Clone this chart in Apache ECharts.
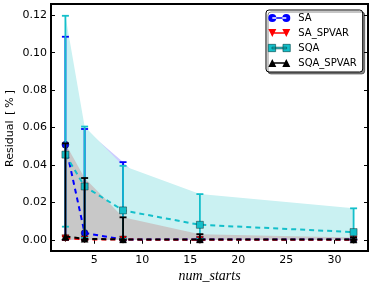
<!DOCTYPE html>
<html><head><meta charset="utf-8">
<script src="https://cdn.jsdelivr.net/npm/echarts@6/dist/echarts.min.js"></script>
<style>html,body{margin:0;padding:0;background:#fff}#c{width:374px;height:286px}</style>
</head><body><div id="c"></div>
<script>
const xs = [2, 4, 8, 16, 32];
const xTicks = [5, 10, 15, 20, 25, 30];
const yTicks = [0, 0.02, 0.04, 0.06, 0.08, 0.10, 0.12];
const yTickLabels = ['0.00', '0.02', '0.04', '0.06', '0.08', '0.10', '0.12'];

const saMean = [0.0508, 0.0036, 0.0002, 0.0001, 0.0001];
const saLow  = [0.0, 0.0, 0.0, 0.0, 0.0];
const saHigh = [0.1085, 0.0592, 0.0415, 0.0008, 0.0005];

const saspMean = [0.0008, 0.0002, 0.0001, 0.0, 0.0];
const saspLow  = [0.0, 0.0, 0.0, 0.0, 0.0];
const saspHigh = [0.0018, 0.0006, 0.0003, 0.0002, 0.0001];

const sqaMean = [0.0455, 0.0285, 0.0157, 0.0080, 0.0041];
const sqaLow  = [0.0070, 0.0010, 0.0005, 0.0005, 0.0002];
const sqaHigh = [0.1197, 0.0605, 0.0395, 0.0244, 0.0168];

const spMean = [0.0018, 0.0005, 0.0002, 0.0002, 0.0001];
const spLow  = [0.0, 0.0, 0.0, 0.0, 0.0];
const spHigh = [0.0515, 0.0330, 0.0120, 0.0030, 0.0012];

const BLUE = '#0000ff', RED = '#ff0000', CYAN = '#14bfca', BLACK = '#000000';

function triples(low, high) { return xs.map((x, i) => [x, low[i], high[i]]); }

function fillSeries(name, low, high, color) {
  return {
    type: 'custom', name: name + '_fill', z: 1, silent: true, clip: true,
    data: triples(low, high), encode: { x: 0, y: [1, 2] },
    renderItem: function (params, api) {
      if (params.dataIndex !== 0) return null;
      const pts = [];
      for (let i = 0; i < xs.length; i++) pts.push(api.coord([xs[i], high[i]]));
      for (let i = xs.length - 1; i >= 0; i--) pts.push(api.coord([xs[i], low[i]]));
      return { type: 'polygon', shape: { points: pts }, style: { fill: color } };
    }
  };
}

function errSeries(name, low, high, color, z) {
  return {
    type: 'custom', name: name + '_err', z: z, silent: true, clip: true,
    data: triples(low, high), encode: { x: 0, y: [1, 2] },
    renderItem: function (params, api) {
      const x = api.value(0);
      const a = api.coord([x, api.value(1)]);
      const b = api.coord([x, api.value(2)]);
      const w = 3.5;
      const st = { stroke: color, lineWidth: 1.8 };
      return { type: 'group', children: [
        { type: 'line', shape: { x1: a[0], y1: a[1], x2: b[0], y2: b[1] }, style: st },
        { type: 'line', shape: { x1: a[0] - w, y1: a[1], x2: a[0] + w, y2: a[1] }, style: st },
        { type: 'line', shape: { x1: b[0] - w, y1: b[1], x2: b[0] + w, y2: b[1] }, style: st }
      ]};
    }
  };
}

function lineSeries(name, mean, color, symbol, size, z, rot) {
  return {
    type: 'line', name: name, z: z, data: xs.map((x, i) => [x, mean[i]]),
    symbol: symbol, symbolSize: size, showSymbol: true, symbolRotate: rot || 0,
    lineStyle: { color: color, width: 2, type: [5, 4] },
    itemStyle: { color: color, borderColor: '#000', borderWidth: 0.4 },
    emphasis: { disabled: true }, animation: false
  };
}

const icons = {
  circle: 'path://M0,4a4,4 0 1,0 8,0a4,4 0 1,0 -8,0Z M14,4a4,4 0 1,0 8,0a4,4 0 1,0 -8,0Z M4,3.2h14v1.6h-14Z',
  tdown: 'path://M0,0h8l-4,8Z M14,0h8l-4,8Z M4,3.2h14v1.6h-14Z',
  square: 'path://M0.5,0.5h7v7h-7Z M14.5,0.5h7v7h-7Z M4,3.2h14v1.6h-14Z',
  tup: 'path://M4,0l4,8h-8Z M18,0l4,8h-8Z M4,3.2h14v1.6h-14Z'
};

const FONT = 'DejaVu Sans';
const chart = echarts.init(document.getElementById('c'), null, { renderer: 'canvas' });
chart.setOption({
  animation: false,
  backgroundColor: '#fff',
  grid: { left: 51, right: 6, top: 4, bottom: 35, show: true, borderColor: '#000', borderWidth: 2,
    backgroundColor: 'transparent', containLabel: false, outerBoundsMode: 'none' },
  legend: {
    left: 266, top: 10, orient: 'vertical',
    itemWidth: 22, itemHeight: 8, itemGap: 3,
    padding: [2, 6, 3, 2],
    backgroundColor: '#fff', borderColor: '#000', borderWidth: 1, borderRadius: 3,
    shadowColor: 'rgba(0,0,0,0.45)', shadowOffsetX: 2, shadowOffsetY: 2, shadowBlur: 0,
    textStyle: { fontFamily: FONT, fontSize: 10, color: '#000', padding: [0, 0, 0, 3], lineHeight: 12 },
    data: [
      { name: 'SA', icon: icons.circle, itemStyle: { color: BLUE, borderWidth: 0 } },
      { name: 'SA_SPVAR', icon: icons.tdown, itemStyle: { color: RED, borderWidth: 0 } },
      { name: 'SQA', icon: icons.square, itemStyle: { color: CYAN, borderColor: '#044', borderWidth: 0.6 } },
      { name: 'SQA_SPVAR', icon: icons.tup, itemStyle: { color: BLACK, borderWidth: 0 } }
    ]
  },
  xAxis: [
    { type: 'value', min: 0.5, max: 33.5, position: 'bottom',
      name: 'num_starts', nameLocation: 'middle', nameGap: 18, nameMoveOverlap: false,
      nameTextStyle: { fontFamily: 'Liberation Serif', fontStyle: 'italic', fontSize: 14, color: '#000' },
      axisLine: { show: false }, splitLine: { show: false },
      axisTick: { inside: true, length: 4, lineStyle: { color: '#000', width: 1 }, customValues: xTicks },
      axisLabel: { customValues: xTicks, fontFamily: FONT, fontSize: 11, color: '#000', margin: 4 } },
    { type: 'value', min: 0.5, max: 33.5, position: 'top',
      axisLine: { show: false }, splitLine: { show: false },
      axisTick: { inside: true, length: 4, lineStyle: { color: '#000', width: 1 }, customValues: xTicks },
      axisLabel: { show: false } }
  ],
  yAxis: [
    { type: 'value', min: -0.006, max: 0.126, position: 'left',
      name: 'Residual {g|[}{p|%}{g|]}', nameLocation: 'middle', nameGap: 35, nameMoveOverlap: false,
      nameTextStyle: { fontFamily: FONT, fontSize: 11, color: '#000',
        rich: { g: { fontFamily: FONT, fontSize: 11, padding: [0, 2, 0, 2] }, p: { fontFamily: FONT, fontSize: 11, padding: [0, 1, 0, 1] } } },
      axisLine: { show: false }, splitLine: { show: false },
      axisTick: { inside: true, length: 4, lineStyle: { color: '#000', width: 1 }, customValues: yTicks },
      axisLabel: { customValues: yTicks, fontFamily: FONT, fontSize: 11, color: '#000', margin: 4,
        formatter: function (v) { const i = yTicks.findIndex(t => Math.abs(t - v) < 1e-9); return i >= 0 ? yTickLabels[i] : ''; } } },
    { type: 'value', min: -0.006, max: 0.126, position: 'right',
      axisLine: { show: false }, splitLine: { show: false },
      axisTick: { inside: true, length: 4, lineStyle: { color: '#000', width: 1 }, customValues: yTicks },
      axisLabel: { show: false } }
  ],
  series: [
    fillSeries('SA', saLow, saHigh, '#ccccff'),
    fillSeries('SQA', sqaLow, sqaHigh, '#caf1f2'),
    fillSeries('SQA_SPVAR', spLow, spHigh, '#c8c8c8'),
    errSeries('SA', saLow, saHigh, BLUE, 3),
    lineSeries('SA', saMean, BLUE, 'circle', 7, 4),
    errSeries('SA_SPVAR', saspLow, saspHigh, RED, 5),
    lineSeries('SA_SPVAR', saspMean, RED, 'triangle', 7, 6, 180),
    errSeries('SQA', sqaLow, sqaHigh, CYAN, 7),
    lineSeries('SQA', sqaMean, CYAN, 'rect', 7, 8),
    errSeries('SQA_SPVAR', spLow, spHigh, BLACK, 9),
    lineSeries('SQA_SPVAR', spMean, BLACK, 'triangle', 7, 10)
  ]
});
</script></body></html>
